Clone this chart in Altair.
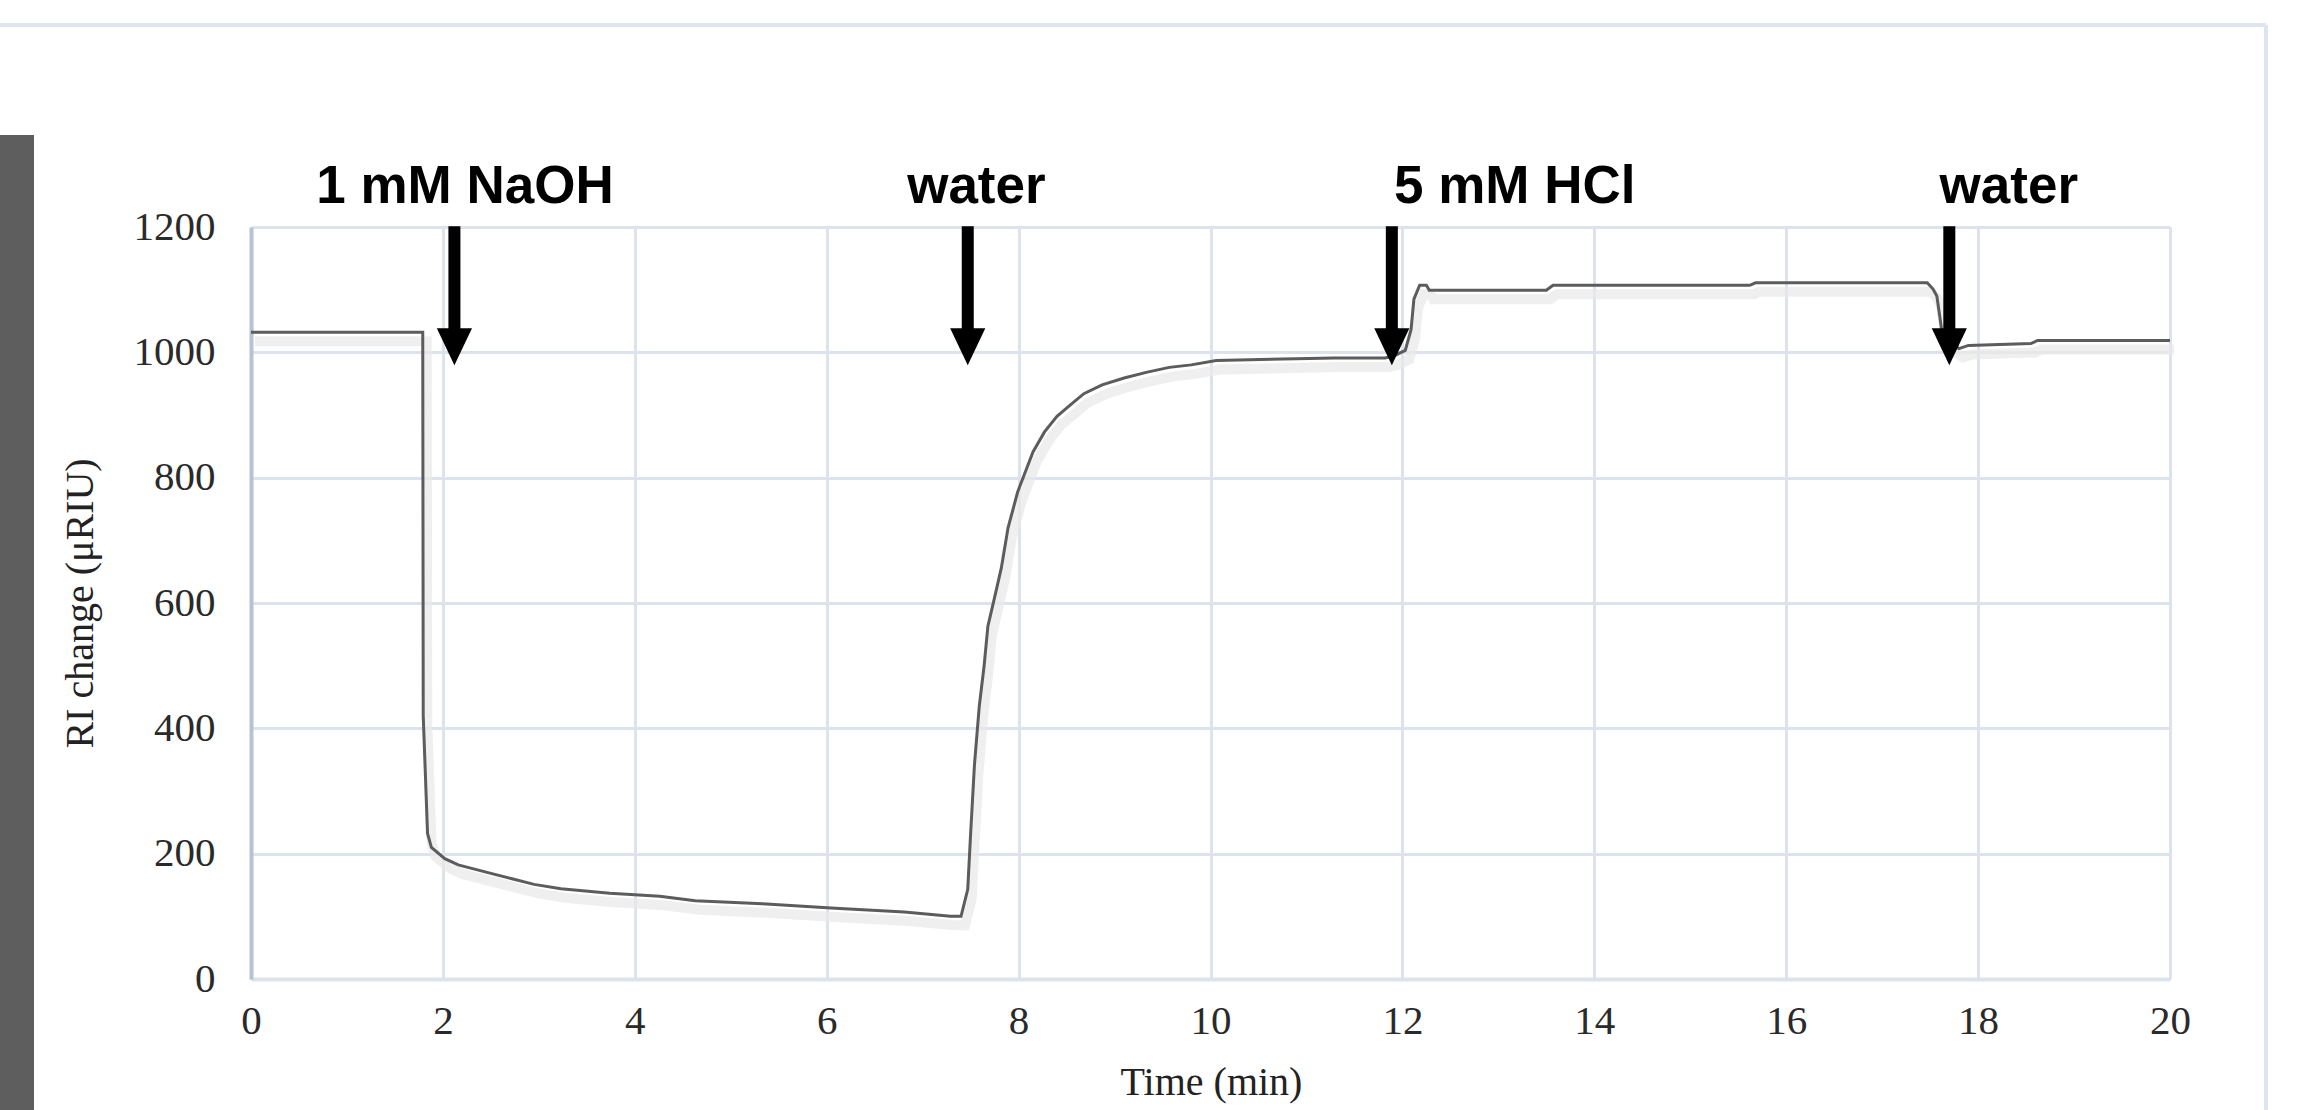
import altair as alt
import pandas as pd

# ---- data ----
time_min = [0.0, 1.79, 1.795, 1.84, 1.88, 2.02, 2.16, 2.44, 2.72, 2.95, 3.23, 3.74,
            4.26, 4.63, 5.33, 6.09, 6.81, 7.29, 7.40, 7.47, 7.50, 7.54, 7.59, 7.64,
            7.68, 7.75, 7.82, 7.89, 7.99, 8.06, 8.15, 8.27, 8.40, 8.54, 8.68, 8.87,
            9.10, 9.33, 9.57, 9.80, 10.06, 11.29, 11.82, 11.92, 12.03, 12.09, 12.12,
            12.18, 12.25, 12.28, 13.50, 13.57, 15.62, 15.68, 17.47, 17.53, 17.57,
            17.60, 17.63, 17.80, 17.90, 18.55, 18.62, 20.0]
ri_change = [1032, 1032, 420, 232, 210, 192, 182, 171, 160, 151, 144, 137,
             132, 125, 120, 113, 107, 100, 100, 143, 232, 342, 435, 499,
             563, 609, 656, 720, 777, 805, 841, 873, 898, 916, 934, 948,
             959, 968, 976, 980, 987, 991, 991, 995, 1003, 1036, 1085,
             1107, 1107, 1099, 1099, 1107, 1107, 1111, 1111, 1101, 1090,
             1058, 1025, 1006, 1011, 1014, 1019, 1019]

x_ticks = list(range(0, 21, 2))
y_ticks = list(range(0, 1201, 200))

labels = ["1 mM NaOH", "water", "5 mM HCl", "water"]
label_t = [2.23, 7.56, 13.17, 18.32]
label_v = [1238, 1238, 1238, 1238]
arrow_t = [2.12, 7.47, 11.89, 17.70]
arrow_top = [1201, 1201, 1201, 1201]
arrow_neck = [1030, 1030, 1030, 1030]
arrow_head = [1009, 1009, 1009, 1009]

W, H = 1919, 752
PAD_L, PAD_T = 251, 227

df = pd.DataFrame({"t": time_min, "v": ri_change})
ann = pd.DataFrame({"label": labels, "t": label_t, "v": label_v})
arr = pd.DataFrame({"t": arrow_t, "v": arrow_top, "v2": arrow_neck, "vh": arrow_head})

xs = alt.Scale(domain=[0, 20], nice=False, zero=False)
ys = alt.Scale(domain=[0, 1200], nice=False)

x_axis = alt.Axis(values=x_ticks, grid=True, ticks=False, labelPadding=22, format="d",
                  labelFlush=False, labelOverlap=False,
                  titleX=960, titleY=103, titleBaseline="middle")
y_axis = alt.Axis(values=y_ticks, grid=True, ticks=False, labelPadding=36, format="d",
                  labelFlush=False, labelOverlap=False,
                  domainColor="#b5c3d6",
                  titleX=-171, titleY=376, titleAngle=270,
                  titleAlign="center", titleBaseline="middle")
X_TITLE = "Time (min)"
Y_TITLE = "RI change (μRIU)"


def xenc(field="t"):
    return alt.X(f"{field}:Q", scale=xs, title=X_TITLE, axis=x_axis)


def yenc(field="v"):
    return alt.Y(f"{field}:Q", scale=ys, title=Y_TITLE, axis=y_axis)


one = alt.Data(values=[{"a": 1}])
FRAME = "#dfe5ee"

strip = alt.Chart(one).mark_rect(color="#5e5e5e").encode(
    x=alt.value(-PAD_L), x2=alt.value(-PAD_L + 34),
    y=alt.value(135 - PAD_T), y2=alt.value(1110 - PAD_T))
top_border = alt.Chart(one).mark_rule(color=FRAME, strokeWidth=4).encode(
    x=alt.value(-PAD_L), x2=alt.value(2266 - PAD_L), y=alt.value(25 - PAD_T))
right_border = alt.Chart(one).mark_rule(color=FRAME, strokeWidth=4).encode(
    x=alt.value(2266 - PAD_L), y=alt.value(25 - PAD_T), y2=alt.value(1110 - PAD_T))

shadow = alt.Chart(df).mark_line(color="#e8e8e8", strokeWidth=10, xOffset=4, yOffset=9,
                                 opacity=0.7).encode(
    x=xenc(), y=yenc(), order="t:Q")

line = alt.Chart(df).mark_line(color="#5c5c5c", strokeWidth=3).encode(
    x=xenc(), y=yenc(), order="t:Q")

shafts = alt.Chart(arr).mark_rule(color="black", strokeWidth=12).encode(
    x=xenc(), y=yenc(), y2="v2:Q")
heads = alt.Chart(arr).mark_point(shape="M-0.95,-1L0.95,-1L0,1Z", size=1369, filled=True,
                                  color="black", opacity=1, strokeWidth=0).encode(
    x=xenc(), y=yenc("vh"))
texts = alt.Chart(ann).mark_text(font="Liberation Sans", fontWeight="bold", fontSize=53,
                                 align="center", baseline="alphabetic", color="black").encode(
    x=xenc(), y=yenc(), text="label:N")

chart = alt.layer(strip, top_border, right_border, shadow, line, shafts, heads, texts).properties(
    width=W, height=H,
    autosize=alt.AutoSizeParams(type="none"),
    padding={"left": PAD_L, "top": PAD_T, "right": 2297 - PAD_L - W, "bottom": 1110 - PAD_T - H},
    background="white",
).configure_view(stroke=None).configure_axis(
    gridColor="#dde3ec", gridWidth=3, domainColor="#dde3ec", domainWidth=4,
    labelFont="Liberation Serif", labelFontSize=41, labelColor="#2a2a2a",
    titleFont="Liberation Serif", titleFontSize=40, titleFontWeight="normal", titleColor="#222222",
)

chart.save("out.html", embed_options={"renderer": "svg", "actions": False})
